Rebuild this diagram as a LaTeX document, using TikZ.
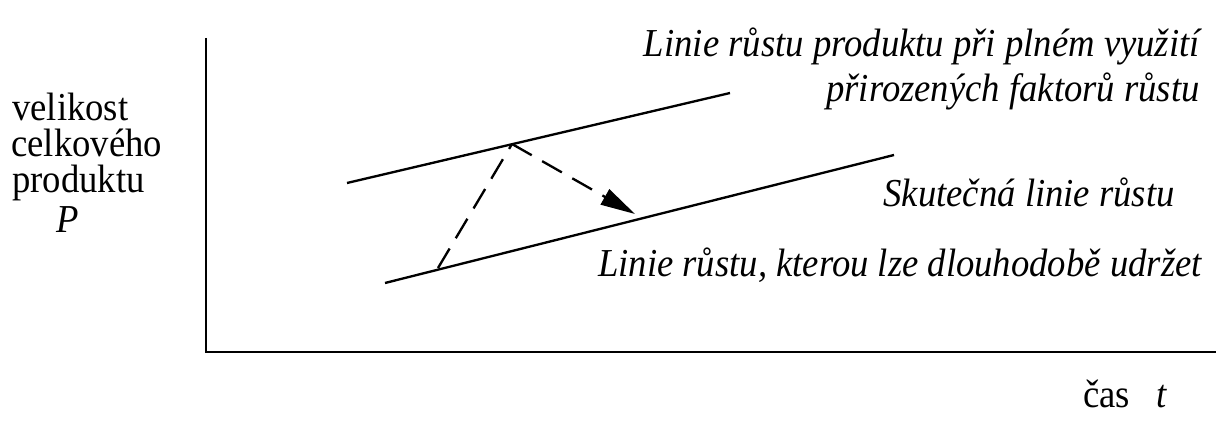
\documentclass[tikz,border=0pt]{standalone}
\usepackage{fontspec}
\setmainfont{Liberation Serif}
\usetikzlibrary{arrows.meta}
\newcommand{\tall}[1]{\scalebox{1}[1.08]{#1}}
\tikzset{
  growline/.style={line width=1.75pt},
  shiftline/.style={line width=1.75pt,dash pattern=on 17pt off 9pt},
  lbl/.style={inner sep=0pt,font=\fontsize{27.5}{32}\selectfont},
  ilbl/.style={inner sep=0pt,font=\fontsize{27.5}{32}\selectfont\itshape},
}

\begin{document}
\begin{tikzpicture}[x=0.75pt,y=-0.75pt]
    \useasboundingbox (0,0) rectangle (1216,427);
    % axes
    \coordinate (ytop) at (206,38);
    \coordinate (origin) at (206,352);
    \coordinate (xend) at (1216,352);
    \draw[growline] (ytop) -- (origin) -- (xend);
    % growth lines
    \coordinate (full0) at (347,183);
    \coordinate (full1) at (730,93);
    \coordinate (real0) at (385,283);
    \coordinate (real1) at (894,155);
    \draw[growline] (full0) -- (full1);
    \draw[growline] (real0) -- (real1);
    % shift up and back down
    \coordinate (foot) at (438,268);
    \coordinate (peak) at (512,144);
    \coordinate (drop) at (635,214);
    \draw[shiftline] (foot) -- (peak);
    \draw[shiftline,-{Triangle[length=26pt,width=13pt]}] (peak) -- (drop);
    % labels
    \node[lbl,anchor=base west] (ylab1) at (12,121) {\tall{velikost}};
    \node[lbl,anchor=base west] (ylab2) at (11,157) {\tall{celkového}};
    \node[lbl,anchor=base west] (ylab3) at (12,193) {\tall{produktu}};
    \node[ilbl,anchor=base west] (ylabP) at (56,233) {\tall{P}};
    \node[ilbl,anchor=base east] (fulltxt1) at (1200,57) {\tall{Linie růstu produktu při plném využití}};
    \node[ilbl,anchor=base east] (fulltxt2) at (1200,102) {\tall{přirozených faktorů růstu}};
    \node[ilbl,anchor=base east] (realtxt) at (1175,207) {\tall{Skutečná linie růstu}};
    \node[ilbl,anchor=base east] (holdtxt) at (1202,277) {\tall{Linie růstu, kterou lze dlouhodobě udržet}};
    \node[lbl,anchor=base west] (xlab) at (1083,407) {\tall{čas}};
    \node[ilbl,anchor=base west] (xlabt) at (1156,407) {\tall{t}};
\end{tikzpicture}
\end{document}
